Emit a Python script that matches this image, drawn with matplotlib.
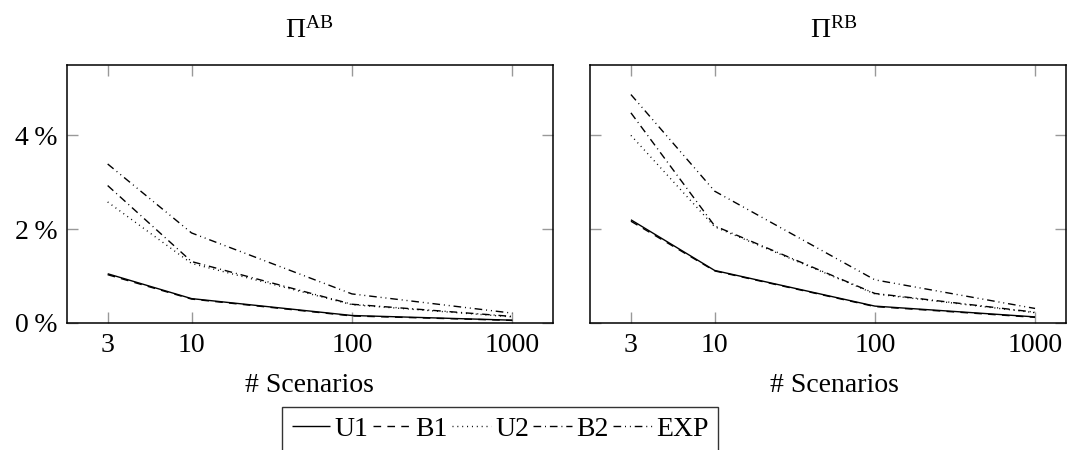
import numpy as np
import matplotlib
matplotlib.use("Agg")
import matplotlib.pyplot as plt

# number of scenarios on the x axis
scenarios = [3, 10, 100, 1000]

# relative gap in percent, panel Pi^AB
ab_u1 = [1.05, 0.52, 0.16, 0.06]
ab_b1 = [1.03, 0.51, 0.15, 0.055]
ab_u2 = [2.58, 1.27, 0.39, 0.13]
ab_b2 = [2.93, 1.31, 0.40, 0.14]
ab_exp = [3.39, 1.92, 0.62, 0.21]

# relative gap in percent, panel Pi^RB
rb_u1 = [2.20, 1.12, 0.36, 0.13]
rb_b1 = [2.17, 1.11, 0.35, 0.12]
rb_u2 = [4.00, 2.05, 0.62, 0.22]
rb_b2 = [4.48, 2.07, 0.63, 0.23]
rb_exp = [4.87, 2.81, 0.92, 0.31]

series_names = ["U1", "B1", "U2", "B2", "EXP"]
yticks = [0, 2, 4]

plt.rcParams['font.family'] = ['Liberation Serif', 'DejaVu Serif']
plt.rcParams['mathtext.fontset'] = 'custom'
plt.rcParams['mathtext.rm'] = 'Liberation Serif'
plt.rcParams['mathtext.it'] = 'Liberation Serif:italic'

FS = 20

# pgfplots-like line styles (on/off in points)
styles = {
    "U1": (0, ()),
    "B1": (0, (5.5, 4.5)),
    "U2": (0, (0.7, 2.8)),
    "B2": (0, (5.5, 2.8, 0.7, 2.8)),
    "EXP": (0, (5.5, 2.8, 0.7, 2.8, 0.7, 2.8)),
}

W, H = 1067, 450
fig = plt.figure(figsize=(W / 100, H / 100), dpi=100)

top, bottom = 65, 323
ax1 = fig.add_axes([67 / W, 1 - bottom / H, (553 - 67) / W, (bottom - top) / H])
ax2 = fig.add_axes([590 / W, 1 - bottom / H, (1066 - 590) / W, (bottom - top) / H])

decade_px = 160.5


def style_axis(ax, data, title, left_px, right_px, tick3_px, tick1000_px, centre_px, show_y):
    lines = []
    for name, vals in zip(series_names, data):
        ln, = ax.plot(scenarios, vals, color='black', linewidth=1.0,
                      linestyle=styles[name], label=name)
        lines.append(ln)
    ax.set_xscale('log')
    lo = 3 / 10 ** ((tick3_px - left_px) / decade_px)
    hi = 1000 * 10 ** ((right_px - tick1000_px) / decade_px)
    ax.set_xlim(lo, hi)
    ax.set_ylim(0, 5.5)
    ax.set_xticks(scenarios)
    ax.set_xticklabels([str(s) for s in scenarios])
    ax.xaxis.set_minor_locator(matplotlib.ticker.NullLocator())
    ax.set_yticks(yticks)
    if show_y:
        ax.set_yticklabels([f"{v}\u2009%" for v in yticks])
    else:
        ax.set_yticklabels([])
    ax.tick_params(direction='in', length=8, width=1, color='0.6',
                   top=True, right=True, labelsize=FS, pad=7)
    for s in ax.spines.values():
        s.set_linewidth(1.1)
    cx = (centre_px - left_px) / (right_px - left_px)
    ax.set_title(title, fontsize=FS, x=cx, pad=20)
    ax.set_xlabel("# Scenarios", fontsize=FS)
    ax.xaxis.set_label_coords(cx, -0.195)
    return lines


lines = style_axis(ax1, [ab_u1, ab_b1, ab_u2, ab_b2, ab_exp],
                   r'$\Pi^{\mathrm{AB}}$', 67, 553, 107.7, 512.3, 309, True)
style_axis(ax2, [rb_u1, rb_b1, rb_u2, rb_b2, rb_exp],
           r'$\Pi^{\mathrm{RB}}$', 590, 1066, 631, 1035, 834, False)

leg = fig.legend(lines, series_names, loc='upper center',
                 bbox_to_anchor=(500 / W, 1 - 407 / H), ncol=5,
                 fontsize=FS, frameon=True, fancybox=False,
                 handlelength=1.4, handletextpad=0.15, columnspacing=0.15,
                 borderpad=0.35, borderaxespad=0)
leg.get_frame().set_edgecolor('black')
leg.get_frame().set_linewidth(1.0)

fig.savefig("out.png", dpi=100)
